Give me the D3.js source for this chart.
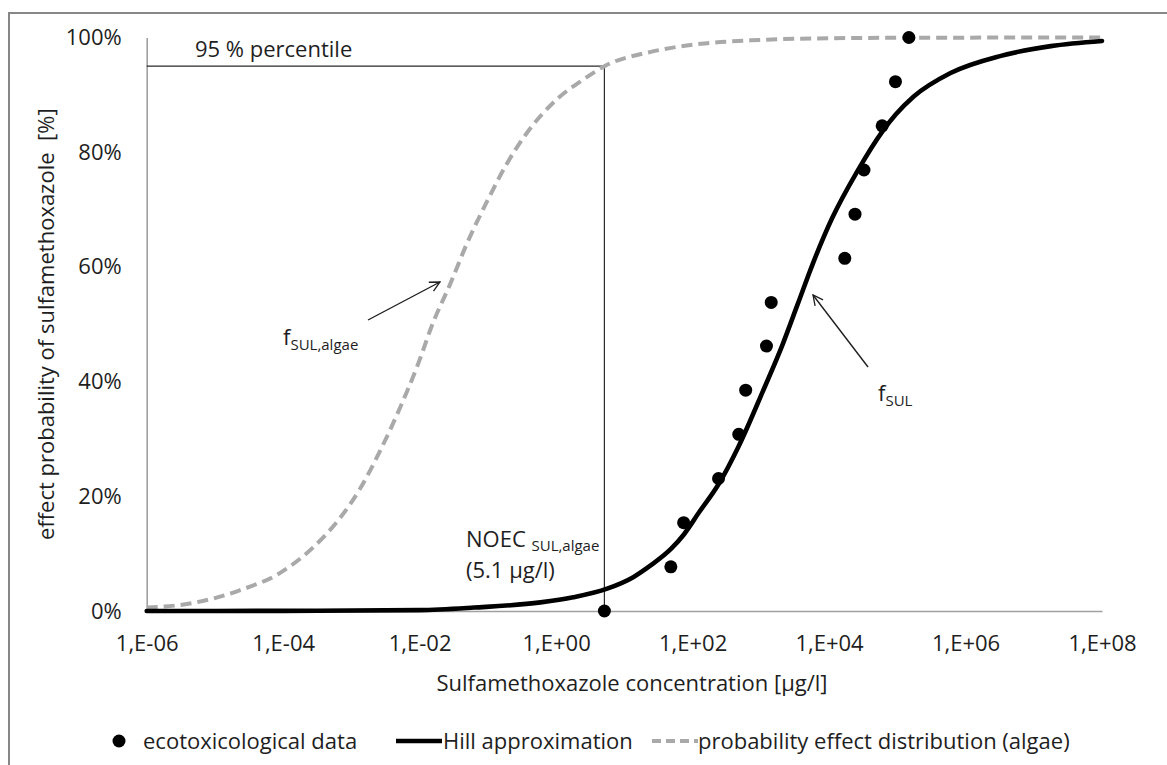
<!DOCTYPE html>
<html>
<head>
<meta charset="utf-8">
<script src="https://cdn.jsdelivr.net/npm/d3@7"></script>
<style>
  body { margin: 0; background: #ffffff; }
  svg text { font-family: "Open Sans", sans-serif; fill: #1e1e1e; }
</style>
</head>
<body>
<svg id="chart" width="1167" height="765"></svg>
<script>
// Axis ticks
const xTickValues = [1e-6, 1e-4, 1e-2, 1e0, 1e2, 1e4, 1e6, 1e8];
const xTickLabels = ["1,E-06", "1,E-04", "1,E-02", "1,E+00", "1,E+02", "1,E+04", "1,E+06", "1,E+08"];
const yTickValues = [0, 20, 40, 60, 80, 100];

// Ecotoxicological data: concentration [µg/l] and effect probability [%]
const ecoConc   = [5.1, 48, 74, 240, 475, 600, 1210, 1420, 17000, 24000, 32500, 60000, 94000, 148000];
const ecoEffect = [0, 7.7, 15.4, 23.1, 30.8, 38.5, 46.2, 53.8, 61.5, 69.2, 76.9, 84.6, 92.3, 100];

// Hill approximation f_SUL
const hillConc   = [1e-6, 1e-4, 0.01, 0.063, 0.59, 1.78, 5.6, 13.5, 24, 49, 74, 126, 240, 468, 1070, 2090, 3470, 5750, 11200, 26300, 60300, 95500, 174000, 603000, 3.3e6, 1.78e7, 1e8];
const hillEffect = [0, 0.02, 0.15, 0.6, 1.5, 2.4, 3.9, 5.9, 7.9, 10.9, 13.3, 17.3, 22.1, 28.6, 38.3, 46.5, 53.5, 60.5, 68.6, 76.8, 83.6, 86.6, 89.7, 93.8, 96.8, 98.5, 99.4];

// Probability effect distribution for algae f_SUL,algae
const algaeConc   = [1e-6, 4.3e-6, 2.3e-5, 8.9e-5, 2.75e-4, 6.8e-4, 1.35e-3, 2.6e-3, 5.1e-3, 9.1e-3, 1.6e-2, 2.8e-2, 4.9e-2, 9.8e-2, 0.19, 0.37, 1.02, 2.6, 5.1, 24.5, 132, 708, 3800, 1e5, 1e8];
const algaeEffect = [0.6, 1.3, 3.6, 6.6, 11.1, 16.2, 21.4, 27.8, 35.3, 42.5, 50.5, 57.0, 64.0, 71.5, 78.0, 83.3, 89.2, 92.8, 95.0, 97.5, 98.9, 99.5, 99.8, 99.95, 100];

// Reference values
const noecAlgae = 5.1;       // µg/l
const percentile = 95;       // %

const legendLabels = ["ecotoxicological data", "Hill approximation", "probability effect distribution (algae)"];

const svg = d3.select("#chart");

const x = d3.scaleLog().domain([1e-6, 1e8]).range([146.7, 1102]);
const y = d3.scaleLinear().domain([0, 100]).range([611, 37.5]);

const axisGrey = "#a0a0a0";
const dashGrey = "#a9a9a9";

// Outer chart frame
svg.append("rect")
  .attr("x", 9).attr("y", 13).attr("width", 1200).attr("height", 800)
  .attr("fill", "none").attr("stroke", "#878787").attr("stroke-width", 2);

// Arrow marker (open head)
svg.append("defs").append("marker")
  .attr("id", "openArrow")
  .attr("viewBox", "0 0 12 12")
  .attr("refX", 11).attr("refY", 6)
  .attr("markerWidth", 12).attr("markerHeight", 12)
  .attr("markerUnits", "userSpaceOnUse")
  .attr("orient", "auto")
  .append("path")
  .attr("d", "M1,1 L11,6 L1,11")
  .attr("fill", "none").attr("stroke", "#1e1e1e").attr("stroke-width", 1.3);

// X axis
const xAxis = d3.axisBottom(x)
  .tickValues(xTickValues)
  .tickFormat((d, i) => xTickLabels[i])
  .tickSize(0).tickPadding(24);
const gx = svg.append("g").attr("transform", `translate(0,${y(0)})`).call(xAxis);
gx.select(".domain").attr("stroke", axisGrey).attr("stroke-width", 1.6);
gx.selectAll("text").attr("font-size", 22).attr("fill", "#1e1e1e");

// Y axis
const yAxis = d3.axisLeft(y)
  .tickValues(yTickValues)
  .tickFormat(d => d + "%")
  .tickSize(0).tickPadding(25);
const gy = svg.append("g").attr("transform", `translate(${x(1e-6)},0)`).call(yAxis);
gy.select(".domain").attr("stroke", axisGrey).attr("stroke-width", 1.6);
gy.selectAll("text").attr("font-size", 22).attr("fill", "#1e1e1e");

// Axis titles
svg.append("text")
  .attr("x", 632).attr("y", 691)
  .attr("text-anchor", "middle").attr("font-size", 22)
  .text("Sulfamethoxazole concentration [µg/l]");

svg.append("text")
  .attr("transform", `translate(54,${(y(0) + y(100)) / 2}) rotate(-90)`)
  .attr("text-anchor", "middle").attr("font-size", 22)
  .attr("xml:space", "preserve")
  .text("effect probability of sulfamethoxazole  [%]");

// 95 % percentile / NOEC reference lines
svg.append("path")
  .attr("d", `M${x(1e-6)},${y(percentile)} H${x(noecAlgae)} V${y(0)}`)
  .attr("fill", "none").attr("stroke", "#2a2a2a").attr("stroke-width", 1.2);

// Curves
const line = d3.line()
  .x(d => x(d[0]))
  .y(d => y(d[1]))
  .curve(d3.curveMonotoneX);

svg.append("path")
  .datum(algaeConc.map((c, i) => [c, algaeEffect[i]]))
  .attr("d", line)
  .attr("fill", "none").attr("stroke", dashGrey)
  .attr("stroke-width", 4).attr("stroke-dasharray", "11,6");

svg.append("path")
  .datum(hillConc.map((c, i) => [c, hillEffect[i]]))
  .attr("d", line)
  .attr("fill", "none").attr("stroke", "#000")
  .attr("stroke-width", 4.6).attr("stroke-linecap", "round");

// Data points
svg.append("g").selectAll("circle")
  .data(ecoConc.map((c, i) => [c, ecoEffect[i]]))
  .join("circle")
  .attr("cx", d => x(d[0]))
  .attr("cy", d => y(d[1]))
  .attr("r", 6.5)
  .attr("fill", "#000");

// Annotations
svg.append("text")
  .attr("x", 195).attr("y", 57).attr("font-size", 22)
  .text("95 % percentile");

const noec = svg.append("text").attr("x", 466).attr("y", 547).attr("font-size", 22);
noec.append("tspan").text("NOEC ");
noec.append("tspan").attr("font-size", 15).attr("dy", 4).text("SUL,algae");
svg.append("text")
  .attr("x", 466).attr("y", 578).attr("font-size", 22)
  .text("(5.1 µg/l)");

const fa = svg.append("text").attr("x", 283).attr("y", 345).attr("font-size", 22);
fa.append("tspan").text("f");
fa.append("tspan").attr("font-size", 15).attr("dy", 5).text("SUL,algae");
svg.append("line")
  .attr("x1", 368).attr("y1", 320).attr("x2", 440).attr("y2", 282)
  .attr("stroke", "#1e1e1e").attr("stroke-width", 1.4)
  .attr("marker-end", "url(#openArrow)");

const fs = svg.append("text").attr("x", 878).attr("y", 401).attr("font-size", 22);
fs.append("tspan").text("f");
fs.append("tspan").attr("font-size", 15).attr("dy", 5).text("SUL");
svg.append("line")
  .attr("x1", 868).attr("y1", 367).attr("x2", 813).attr("y2", 295)
  .attr("stroke", "#1e1e1e").attr("stroke-width", 1.4)
  .attr("marker-end", "url(#openArrow)");

// Legend
const ly = 741;
const legend = svg.append("g");
legend.append("circle").attr("cx", 119).attr("cy", ly).attr("r", 6.5).attr("fill", "#000");
legend.append("text").attr("x", 143).attr("y", ly + 8).attr("font-size", 22).text(legendLabels[0]);
legend.append("line").attr("x1", 396).attr("x2", 442).attr("y1", ly).attr("y2", ly)
  .attr("stroke", "#000").attr("stroke-width", 4.6);
legend.append("text").attr("x", 443).attr("y", ly + 8).attr("font-size", 22).text(legendLabels[1]);
legend.append("line").attr("x1", 652).attr("x2", 698).attr("y1", ly).attr("y2", ly)
  .attr("stroke", dashGrey).attr("stroke-width", 4).attr("stroke-dasharray", "9,5");
legend.append("text").attr("x", 698).attr("y", ly + 8).attr("font-size", 22).text(legendLabels[2]);
</script>
</body>
</html>
